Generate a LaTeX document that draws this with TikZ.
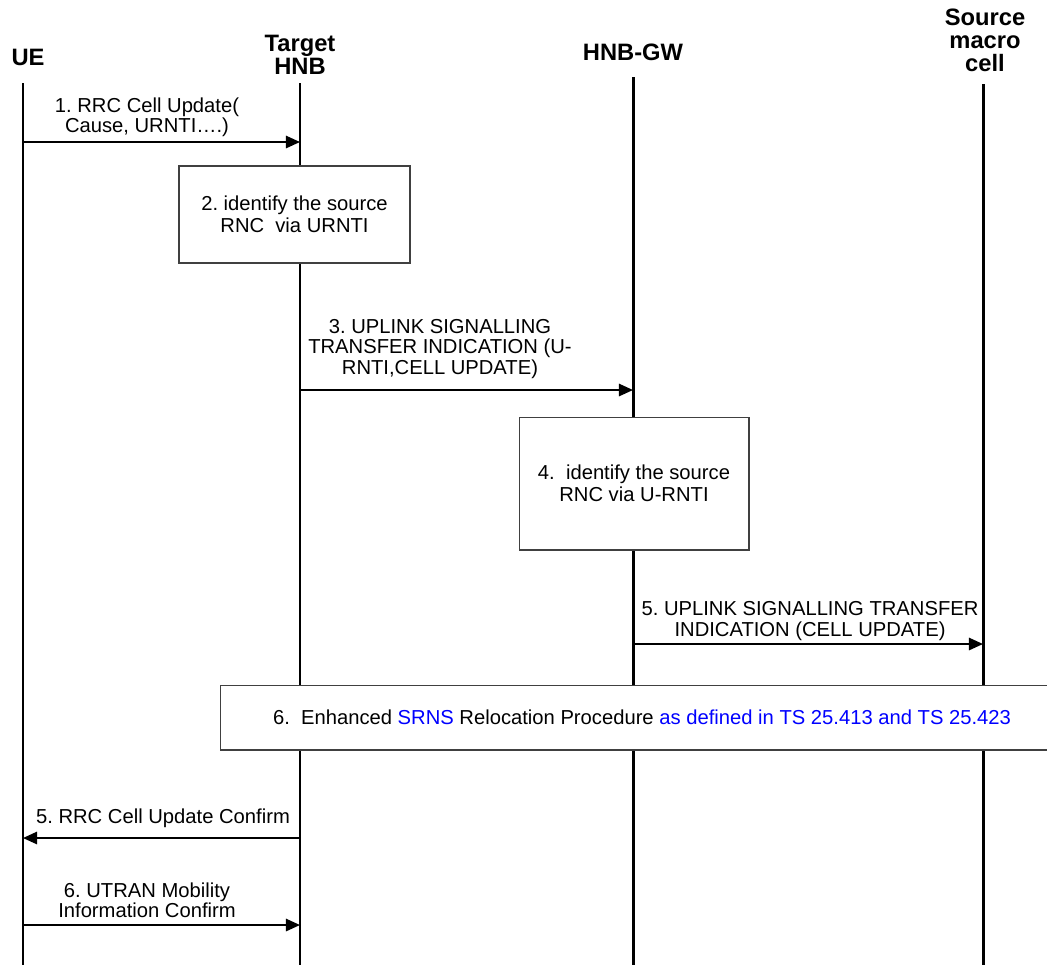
\documentclass[tikz,border=0pt]{standalone}
\usepackage{fontspec}
\setmainfont{Liberation Sans}
\usetikzlibrary{arrows.meta}
\definecolor{refblue}{RGB}{0,0,255}
\frenchspacing
\begin{document}
\begin{tikzpicture}[x=0.02cm,y=-0.02cm,
  life/.style={line width=1.7pt},
  msg/.style={line width=1.1pt,-{Triangle[length=8pt,width=7pt]}},
  head/.style={font=\fontsize{13.5}{13}\selectfont\bfseries,align=center,inner sep=0pt},
  lbl/.style={font=\fontsize{11.5}{11.6}\selectfont,align=center,inner sep=0pt},
  procbox/.style={draw=black!75,line width=0.6pt,fill=white,inner sep=0pt,
    font=\fontsize{11.5}{12.8}\selectfont,align=center}]
\useasboundingbox (0,0) rectangle (1047,965);

% entity headings
\node[head] (hUE)  at (28,57)  {UE};
\node[head] (hHNB) at (300,55) {Target\\HNB};
\node[head] (hGW)  at (633,52) {HNB-GW};
\node[head] (hSRC) at (985,40) {Source\\macro\\cell};

% lifelines
\coordinate (ueT)  at (23,83);   \coordinate (ueB)  at (23,965);
\coordinate (hnbT) at (300,83);  \coordinate (hnbB) at (300,965);
\coordinate (gwT)  at (633,77);  \coordinate (gwB)  at (633,965);
\coordinate (srcT) at (983,84);  \coordinate (srcB) at (983,965);
\draw[life] (ueT) -- (ueB);
\draw[life] (hnbT) -- (hnbB);
\draw[life] (gwT) -- (gwB);
\draw[life] (srcT) -- (srcB);

% 1. RRC Cell Update
\coordinate (m1a) at (23,142); \coordinate (m1b) at (300,142);
\draw[msg] (m1a) -- (m1b);
\node[lbl] (l1) at (147,117) {1. RRC Cell Update(\\Cause, URNTI\dots.)};

% 2. local processing in the target HNB
\node[procbox,minimum width=4.62cm,minimum height=1.94cm] (p2) at (294.5,214.5)
  {2. identify the source\\RNC\ \ via URNTI};

% 3. uplink signalling transfer to the gateway
\coordinate (m3a) at (300,390); \coordinate (m3b) at (633,390);
\draw[msg] (m3a) -- (m3b);
\node[lbl] (l3) at (440,349) {3. UPLINK SIGNALLING\\TRANSFER INDICATION (U-\\RNTI,CELL UPDATE)};

% 4. local processing in the gateway
\node[procbox,minimum width=4.6cm,minimum height=2.66cm] (p4) at (634,483.5)
  {4.\ \ identify the source\\RNC via U-RNTI};

% 5. uplink signalling transfer to the source cell
\coordinate (m5a) at (633,644); \coordinate (m5b) at (983,644);
\draw[msg] (m5a) -- (m5b);
\node[lbl] (l5) at (810,621) {5. UPLINK SIGNALLING TRANSFER\\INDICATION (CELL UPDATE)};

% 6. relocation procedure
\node[procbox,minimum width=16.88cm,minimum height=1.3cm] (p6) at (642,717.5)
  {6.\ \ Enhanced \textcolor{refblue}{SRNS} Relocation Procedure \textcolor{refblue}{as defined in TS 25.413 and TS 25.423}};

% 5. RRC Cell Update Confirm
\coordinate (m7a) at (300,838); \coordinate (m7b) at (23,838);
\draw[msg] (m7a) -- (m7b);
\node[lbl] (l7) at (163,818) {5. RRC Cell Update Confirm};

% 6. UTRAN Mobility Information Confirm
\coordinate (m8a) at (23,925); \coordinate (m8b) at (300,925);
\draw[msg] (m8a) -- (m8b);
\node[lbl] (l8) at (147,900) {6. UTRAN Mobility\\Information Confirm};
\end{tikzpicture}
\end{document}
